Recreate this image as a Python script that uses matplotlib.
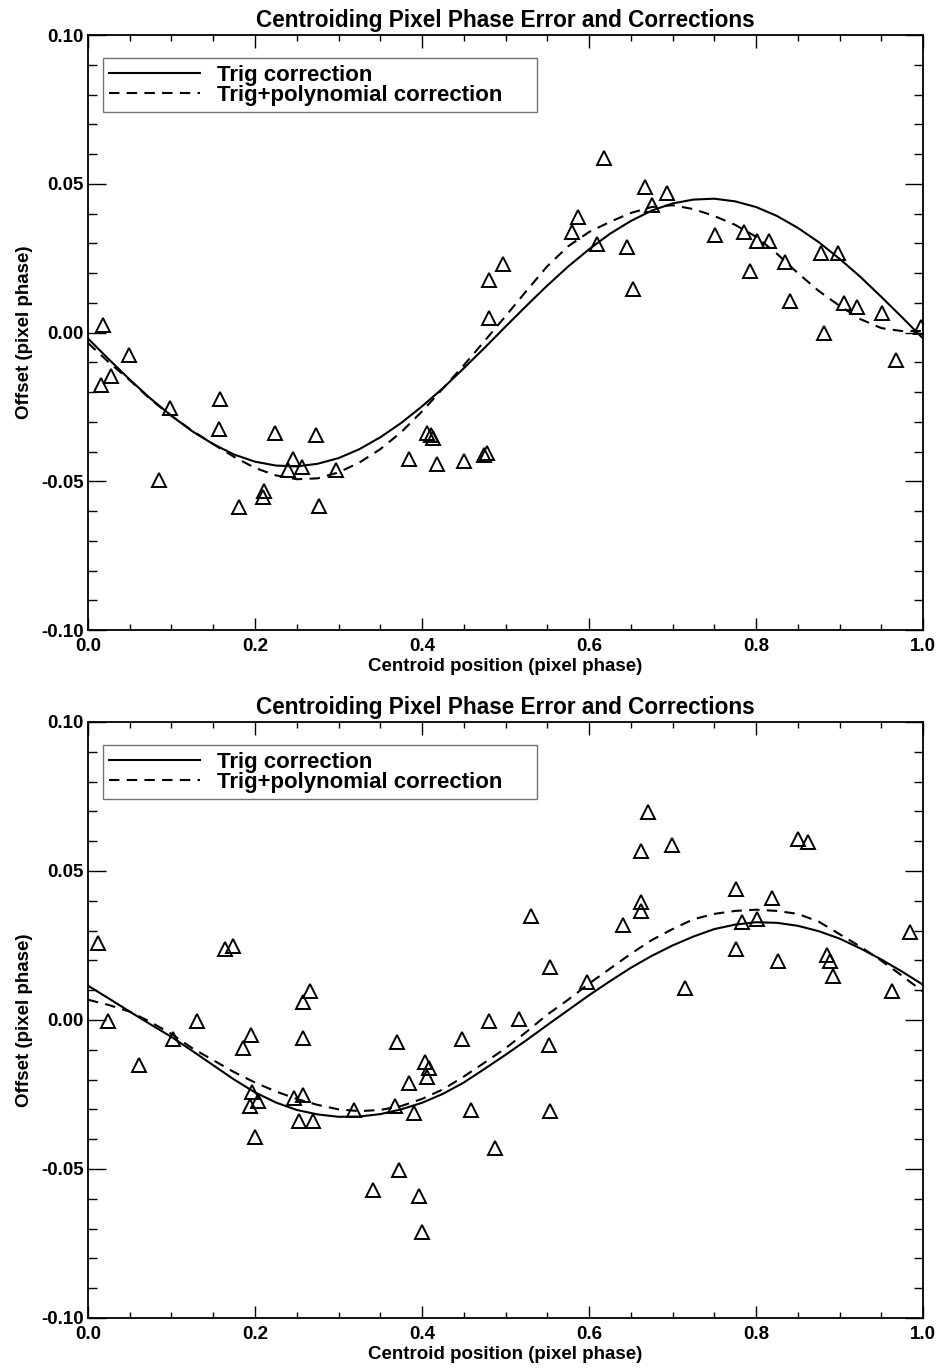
import matplotlib
matplotlib.use("Agg")
import matplotlib.pyplot as plt
from matplotlib.ticker import MultipleLocator, StrMethodFormatter

plt.rcParams['font.family'] = ['Liberation Sans', 'DejaVu Sans']
plt.rcParams['font.weight'] = 'bold'
plt.rcParams['axes.labelweight'] = 'bold'
plt.rcParams['axes.titleweight'] = 'bold'
plt.rcParams['axes.unicode_minus'] = False

# Smooth fit curves, every 0.025 in pixel phase
curve_x = [i * 0.025 for i in range(41)]

top_trig = [-0.0020, -0.0090, -0.0158, -0.0222, -0.0280, -0.0332, -0.0375, -0.0410,
            -0.0434, -0.0447, -0.0450, -0.0441, -0.0422, -0.0392, -0.0352, -0.0304,
            -0.0248, -0.0187, -0.0120, -0.0051, 0.0020, 0.0090, 0.0158, 0.0222,
            0.0280, 0.0332, 0.0375, 0.0410, 0.0434, 0.0447, 0.0450, 0.0441,
            0.0422, 0.0392, 0.0352, 0.0304, 0.0248, 0.0187, 0.0120, 0.0051, -0.0020]
top_poly = [-0.0035, -0.0100, -0.0160, -0.0225, -0.0280, -0.0330, -0.0375, -0.0418,
            -0.0455, -0.0480, -0.0493, -0.0490, -0.0470, -0.0437, -0.0392, -0.0335,
            -0.0265, -0.0188, -0.0110, -0.0028, 0.0055, 0.0140, 0.0223, 0.0290,
            0.0338, 0.0372, 0.0402, 0.0422, 0.0428, 0.0415, 0.0392, 0.0362,
            0.0322, 0.0265, 0.0200, 0.0140, 0.0090, 0.0045, 0.0015, 0.0005, 0.0005]

bot_trig = [0.0115, 0.0072, 0.0028, -0.0015, -0.0057, -0.0104, -0.0152, -0.0200,
            -0.0243, -0.0277, -0.0302, -0.0317, -0.0325, -0.0324, -0.0316, -0.0300,
            -0.0278, -0.0248, -0.0210, -0.0164, -0.0117, -0.0068, -0.0017, 0.0033,
            0.0083, 0.0130, 0.0175, 0.0215, 0.0250, 0.0280, 0.0305, 0.0320,
            0.0328, 0.0326, 0.0316, 0.0298, 0.0273, 0.0240, 0.0203, 0.0162, 0.0118]
bot_poly = [0.0068, 0.0050, 0.0028, -0.0007, -0.0047, -0.0095, -0.0135, -0.0175,
            -0.0210, -0.0240, -0.0265, -0.0285, -0.0300, -0.0306, -0.0302, -0.0289,
            -0.0265, -0.0233, -0.0190, -0.0143, -0.0095, -0.0040, 0.0018, 0.0068,
            0.0122, 0.0172, 0.0222, 0.0268, 0.0305, 0.0338, 0.0356, 0.0366,
            0.0370, 0.0366, 0.0356, 0.0330, 0.0288, 0.0246, 0.0199, 0.0148, 0.0095]

# Measured offsets (triangles)
top_px = [0.016, 0.018, 0.028, 0.0496, 0.0855, 0.098, 0.157, 0.158, 0.181, 0.209,
          0.211, 0.224, 0.240, 0.245, 0.256, 0.273, 0.277, 0.297, 0.384, 0.406,
          0.411, 0.413, 0.418, 0.450, 0.474, 0.478, 0.480, 0.480, 0.497, 0.579,
          0.587, 0.610, 0.618, 0.645, 0.653, 0.667, 0.675, 0.693, 0.751, 0.786,
          0.793, 0.801, 0.815, 0.835, 0.841, 0.878, 0.881, 0.898, 0.905, 0.921,
          0.951, 0.967, 0.998]
top_py = [-0.0175, 0.0027, -0.0145, -0.0074, -0.0495, -0.0254, -0.0324, -0.0223, -0.0585, -0.0553,
          -0.0534, -0.0336, -0.0463, -0.0426, -0.0452, -0.0343, -0.0584, -0.0463, -0.0426, -0.0336,
          -0.0345, -0.0355, -0.0442, -0.0433, -0.0411, -0.0404, 0.0178, 0.0049, 0.0229, 0.0338,
          0.0388, 0.0298, 0.0588, 0.0287, 0.0147, 0.0489, 0.0429, 0.0470, 0.0328, 0.0338,
          0.0207, 0.0308, 0.0308, 0.0237, 0.0105, 0.0268, -0.0003, 0.0268, 0.0098, 0.0086,
          0.0066, -0.0093, 0.0019]

bot_px = [0.0116, 0.0236, 0.0616, 0.102, 0.130, 0.164, 0.174, 0.1855, 0.195, 0.1935,
          0.197, 0.2035, 0.200, 0.247, 0.2526, 0.2574, 0.2574, 0.258, 0.266, 0.270,
          0.318, 0.341, 0.368, 0.370, 0.372, 0.385, 0.390, 0.396, 0.400, 0.404,
          0.406, 0.408, 0.448, 0.459, 0.480, 0.487, 0.516, 0.530, 0.552, 0.553,
          0.553, 0.598, 0.641, 0.662, 0.662, 0.662, 0.671, 0.699, 0.715, 0.776,
          0.776, 0.783, 0.801, 0.819, 0.826, 0.850, 0.862, 0.885, 0.888, 0.892,
          0.963, 0.984]
bot_py = [0.0258, -0.0002, -0.0151, -0.0064, -0.0002, 0.0238, 0.0247, -0.0094, -0.0050, -0.0290,
          -0.0243, -0.0273, -0.0392, -0.0261, -0.0340, -0.0060, 0.0059, -0.0252, 0.0098, -0.0340,
          -0.0302, -0.0570, -0.0290, -0.0073, -0.0502, -0.0211, -0.0312, -0.0592, -0.0710, -0.0142,
          -0.0192, -0.0162, -0.0064, -0.0302, -0.0002, -0.0431, 0.0003, 0.0348, -0.0085, 0.0177,
          -0.0305, 0.0129, 0.0319, 0.0568, 0.0397, 0.0367, 0.0697, 0.0587, 0.0106, 0.0440,
          0.0238, 0.0328, 0.0339, 0.0408, 0.0199, 0.0607, 0.0598, 0.0218, 0.0199, 0.0149,
          0.0098, 0.0296]

title = 'Centroiding Pixel Phase Error and Corrections'

fig = plt.figure(figsize=(9.4, 13.7), dpi=100)
ax1 = fig.add_axes([0.0936, 0.5401, 0.8884, 0.4343])
ax2 = fig.add_axes([0.0936, 0.0380, 0.8884, 0.4350])

panels = [(ax1, top_px, top_py, top_trig, top_poly),
          (ax2, bot_px, bot_py, bot_trig, bot_poly)]

for ax, px, py, trig, poly in panels:
    ax.plot(curve_x, trig, color='black', lw=1.5, label='Trig correction')
    ax.plot(curve_x, poly, color='black', lw=1.5, linestyle=(0, (5, 3.5)),
            label='Trig+polynomial correction')
    ax.plot(px, py, linestyle='none', marker='^', markersize=9.5,
            markerfacecolor='none', markeredgecolor='black', markeredgewidth=1.4)

    ax.set_xlim(0, 1)
    ax.set_ylim(-0.1, 0.1)
    ax.xaxis.set_major_locator(MultipleLocator(0.2))
    ax.xaxis.set_minor_locator(MultipleLocator(0.05))
    ax.yaxis.set_major_locator(MultipleLocator(0.05))
    ax.yaxis.set_minor_locator(MultipleLocator(0.01))
    ax.xaxis.set_major_formatter(StrMethodFormatter('{x:.1f}'))
    ax.yaxis.set_major_formatter(StrMethodFormatter('{x:.2f}'))
    ax.tick_params(which='both', direction='in', top=True, right=True,
                   width=1.0, labelsize=13.5)
    ax.tick_params(axis='x', which='major', length=9, pad=6)
    ax.tick_params(axis='x', which='minor', length=4.5)
    ax.tick_params(axis='y', which='major', length=13, pad=3)
    ax.tick_params(axis='y', which='minor', length=6.5)
    for s in ax.spines.values():
        s.set_linewidth(1.3)

    ax.set_title(title, fontsize=16.3, pad=6)
    ax.set_xlabel('Centroid position (pixel phase)', fontsize=13.5, labelpad=2)
    ax.set_ylabel('Offset (pixel phase)', fontsize=13.5, labelpad=6)

    leg = ax.legend(loc='upper left', bbox_to_anchor=(0.0176, 0.961, 0.52, 0.0),
                    mode='expand', fontsize=16, handlelength=4.1,
                    handletextpad=0.75, borderpad=0.3, labelspacing=-0.05,
                    fancybox=False, framealpha=1, borderaxespad=0)
    leg.get_frame().set_edgecolor('0.45')
    leg.get_frame().set_linewidth(1.0)

fig.savefig('out.png', dpi=100)
